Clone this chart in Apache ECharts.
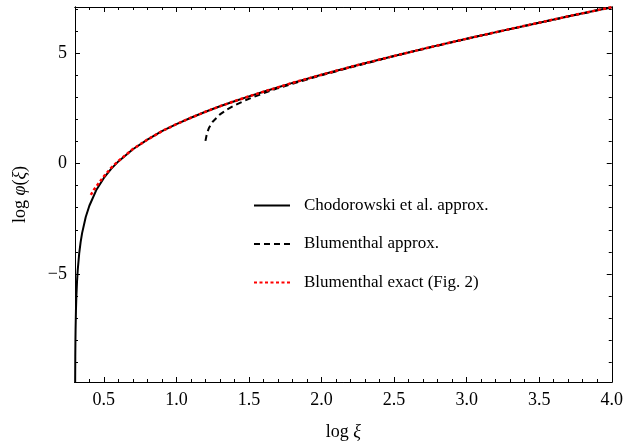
<!DOCTYPE html>
<html>
<head>
<meta charset="utf-8">
<script src="https://cdn.jsdelivr.net/npm/echarts@6/dist/echarts.min.js"></script>
<style>html,body{margin:0;padding:0;background:#fff}#c{width:626px;height:446px}</style>
</head>
<body>
<div id="c"></div>
<script>
// Chodorowski et al. approx. (log xi, log phi)
var chodX = [0.302, 0.303, 0.304, 0.305, 0.3075, 0.31, 0.315, 0.32, 0.33, 0.34, 0.35, 0.375, 0.4, 0.45, 0.5, 0.55, 0.6, 0.7, 0.8, 0.9, 1.0, 1.1, 1.2, 1.3, 1.4, 1.5, 1.6, 1.8, 2.0, 2.25, 2.5, 2.75, 3.0, 3.25, 3.5, 3.75, 4.0];
var chodY = [-9.98, -8.75, -8.04, -7.53, -6.68, -6.11, -5.34, -4.81, -4.07, -3.55, -3.15, -2.42, -1.91, -1.17, -0.65, -0.24, 0.10, 0.65, 1.09, 1.47, 1.79, 2.08, 2.35, 2.60, 2.83, 3.05, 3.26, 3.66, 4.03, 4.47, 4.88, 5.28, 5.66, 6.03, 6.39, 6.75, 7.09];
// Blumenthal approx.
var blumX = [1.2, 1.21, 1.225, 1.25, 1.3, 1.35, 1.4, 1.5, 1.6, 1.7, 1.8, 2.0, 2.5, 3.0, 3.5, 4.0];
var blumY = [1.03, 1.36, 1.63, 1.90, 2.23, 2.46, 2.64, 2.94, 3.19, 3.42, 3.62, 4.01, 4.88, 5.66, 6.39, 7.09];
// Blumenthal exact (Fig. 2)
var exactX = [0.41, 0.43, 0.45, 0.5, 0.55, 0.6, 0.7, 0.8, 0.9, 1.0, 1.1, 1.2, 1.3, 1.4, 1.5, 1.6, 1.8, 2.0, 2.25, 2.5, 2.75, 3.0, 3.25, 3.5, 3.75, 4.0];
var exactY = [-1.42, -1.20, -1.02, -0.58, -0.19, 0.12, 0.66, 1.09, 1.47, 1.79, 2.08, 2.35, 2.60, 2.83, 3.05, 3.26, 3.66, 4.03, 4.47, 4.88, 5.28, 5.66, 6.03, 6.39, 6.75, 7.09];
var xMajor = [0.5, 1.0, 1.5, 2.0, 2.5, 3.0, 3.5, 4.0];
var xMinor = [0.4, 0.6, 0.7, 0.8, 0.9, 1.1, 1.2, 1.3, 1.4, 1.6, 1.7, 1.8, 1.9, 2.1, 2.2, 2.3, 2.4, 2.6, 2.7, 2.8, 2.9, 3.1, 3.2, 3.3, 3.4, 3.6, 3.7, 3.8, 3.9];
var yMajor = [-5, 0, 5];
var yMinor = [-9, -8, -7, -6, -4, -3, -2, -1, 1, 2, 3, 4, 6, 7];
var names = ['Chodorowski et al. approx.', 'Blumenthal approx.', 'Blumenthal exact (Fig. 2)'];

var XMIN = 0.30103, XMAX = 4.0, YMIN = -9.9, YMAX = 7.1;
var FONT = '"Liberation Serif", "DejaVu Serif", serif';

function zip(a, b) { return a.map(function (v, i) { return [v, b[i]]; }); }

function xAx(pos, ticks, len, withLabel) {
  var ax = {
    type: 'value', position: pos, min: XMIN, max: XMAX,
    splitLine: { show: false },
    axisLine: { show: true, onZero: false, lineStyle: { color: '#000', width: 1 } },
    axisTick: { show: true, inside: true, length: len, customValues: ticks, lineStyle: { color: '#000', width: 1 } },
    axisLabel: { show: !!withLabel, customValues: ticks, color: '#000', fontFamily: FONT, fontSize: 18, margin: 9,
      formatter: function (v) { return v.toFixed(1); } }
  };
  if (withLabel) {
    ax.name = '{a|log }{b|ξ}';
    ax.nameLocation = 'middle';
    ax.nameGap = 41;
    ax.nameTextStyle = { rich: { a: { fontFamily: FONT, fontSize: 18, color: '#000' }, b: { fontFamily: FONT, fontSize: 18, fontStyle: 'italic', color: '#000' } } };
  }
  return ax;
}
function yAx(pos, ticks, len, withLabel) {
  var ax = {
    type: 'value', position: pos, min: YMIN, max: YMAX,
    splitLine: { show: false },
    axisLine: { show: true, onZero: false, lineStyle: { color: '#000', width: 1 } },
    axisTick: { show: true, inside: true, length: len, customValues: ticks, lineStyle: { color: '#000', width: 1 } },
    axisLabel: { show: !!withLabel, customValues: ticks, color: '#000', fontFamily: FONT, fontSize: 18, margin: 8,
      formatter: function (v) { return v < 0 ? '\u2212' + Math.abs(v) : String(v); } }
  };
  if (withLabel) {
    ax.name = '{a|log }{b|φ}{a|(}{b|ξ}{a|)}';
    ax.nameLocation = 'middle';
    ax.nameRotate = 90;
    ax.nameGap = 46;
    ax.nameTextStyle = { rich: { a: { fontFamily: FONT, fontSize: 18, color: '#000' }, b: { fontFamily: FONT, fontSize: 18, fontStyle: 'italic', color: '#000' } } };
  }
  return ax;
}

var chart = echarts.init(document.getElementById('c'), null, { renderer: 'canvas' });
chart.setOption({
  animation: false,
  backgroundColor: '#fff',
  grid: { left: 75, right: 14, top: 7, bottom: 63, containLabel: false },
  xAxis: [xAx('bottom', xMajor, 5, true), xAx('bottom', xMinor, 3, false), xAx('top', xMajor, 5, false), xAx('top', xMinor, 3, false)],
  yAxis: [yAx('left', yMajor, 5, true), yAx('left', yMinor, 3, false), yAx('right', yMajor, 5, false), yAx('right', yMinor, 3, false)],
  legend: {
    orient: 'vertical', left: 248, top: 192, itemWidth: 36, itemHeight: 18, itemGap: 21.5,
    data: names,
    itemStyle: { opacity: 0 },
    textStyle: { fontFamily: FONT, fontSize: 17, color: '#000', padding: [0, 0, 0, 9] }
  },
  series: [
    { name: names[0], type: 'line', data: zip(chodX, chodY), showSymbol: false, symbol: 'none', smooth: false,
      lineStyle: { color: '#000', width: 2 }, itemStyle: { color: '#000' } },
    { name: names[1], type: 'line', data: zip(blumX, blumY), showSymbol: false, symbol: 'none',
      lineStyle: { color: '#000', width: 2, type: [6, 4] }, itemStyle: { color: '#000' } },
    { name: names[2], type: 'line', data: zip(exactX, exactY), showSymbol: false, symbol: 'none',
      lineStyle: { color: '#ff0000', width: 2.5, type: [3, 2.5] }, itemStyle: { color: '#ff0000' } }
  ]
});
</script>
</body>
</html>
